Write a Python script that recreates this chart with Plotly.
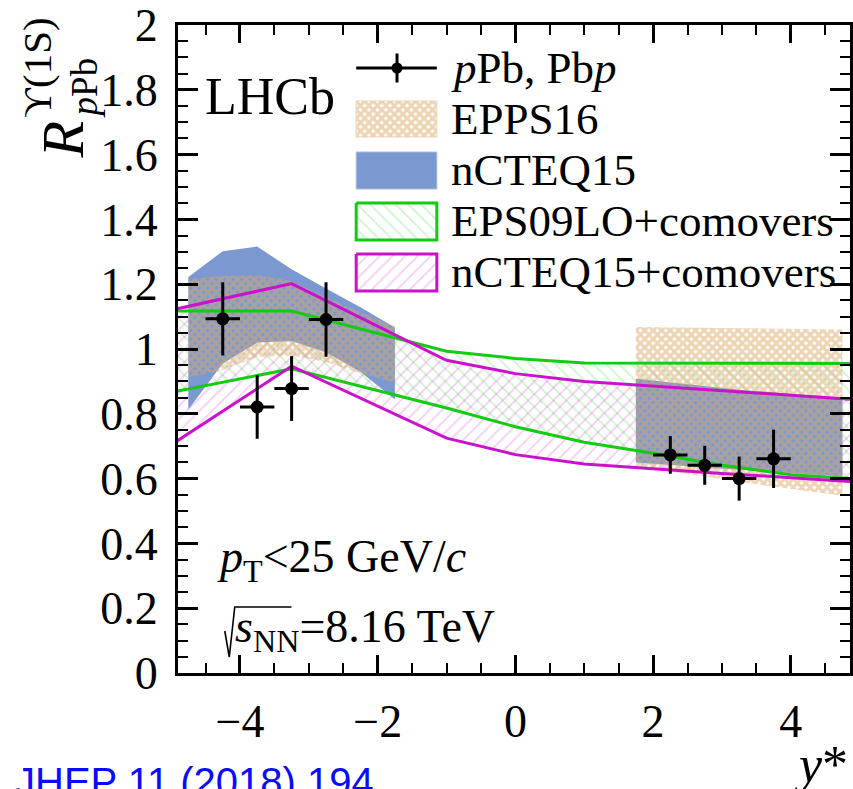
import plotly.graph_objects as go

# ---------------- data ----------------
# LHCb measurement: Upsilon(1S) nuclear modification factor vs y*
y_star = [-4.25, -3.75, -3.25, -2.75, 2.25, 2.75, 3.25, 3.75]
r_ppb = [1.093, 0.821, 0.878, 1.091, 0.673, 0.641, 0.600, 0.661]
r_err = [0.113, 0.098, 0.100, 0.115, 0.058, 0.060, 0.068, 0.090]
bin_half = [0.25] * 8

# EPPS16 and nCTEQ15 uncertainty bands (backward and forward acceptance)
bwd_x = [-4.75, -4.25, -3.75, -3.25, -2.75, -2.25, -1.75]
epps_hi_bwd = [1.215, 1.225, 1.228, 1.210, 1.159, 1.113, 1.070]
epps_lo_bwd = [0.912, 0.935, 0.975, 0.980, 0.960, 0.925, 0.896]
ncteq_hi_bwd = [1.222, 1.302, 1.316, 1.246, 1.187, 1.129, 1.066]
ncteq_lo_bwd = [0.813, 0.955, 1.020, 1.025, 0.990, 0.930, 0.844]

fwd_x = [1.75, 3.25, 4.75]
epps_hi_fwd = [1.068, 1.064, 1.060]
epps_lo_fwd = [0.638, 0.590, 0.547]
ncteq_hi_fwd = [0.908, 0.874, 0.849]
ncteq_lo_fwd = [0.650, 0.627, 0.607]

# comover calculations
com_x = [-5.0, -3.25, -1.0, 0.0, 1.0, 2.0, 3.0, 4.0, 5.0]
eps09_hi = [1.117, 1.117, 0.993, 0.971, 0.957, 0.957, 0.956, 0.956, 0.955]
eps09_lo = [0.866, 0.939, 0.818, 0.760, 0.712, 0.678, 0.641, 0.612, 0.598]
ncteqcom_hi = [1.120, 1.202, 0.965, 0.924, 0.900, 0.886, 0.872, 0.858, 0.843]
ncteqcom_lo = [0.704, 0.947, 0.725, 0.674, 0.645, 0.630, 0.616, 0.603, 0.589]

x_ticks = [-4, -2, 0, 2, 4]

# ---------------- style ----------------
SERIF = "Liberation Serif, Times New Roman, serif"
SANS = "Liberation Sans, Arial, sans-serif"
TAN = "#d9a96b"
BLUE = "#7b98d0"
GREEN = "#11cc11"
MAGENTA = "#cc11cc"
GREEN_HATCH = "rgba(17,204,17,0.42)"
MAGENTA_HATCH = "rgba(204,17,204,0.42)"

W, H = 853, 789
L, R, T, B = 178, 0, 25, 116
PW, PH = W - L - R, H - T - B

fig = go.Figure()


def band(x, hi, lo):
    return list(x) + list(x)[::-1], list(hi) + list(lo)[::-1]


def add_band(x, hi, lo, **kw):
    bx, by = band(x, hi, lo)
    fig.add_trace(go.Scatter(x=bx, y=by, mode="lines", fill="toself",
                             line=dict(width=0), hoverinfo="skip",
                             showlegend=False, **kw))


green_pattern = dict(shape="\\", fgcolor=GREEN_HATCH, bgcolor="rgba(0,0,0,0)",
                     size=9, solidity=0.2)
magenta_pattern = dict(shape="/", fgcolor=MAGENTA_HATCH, bgcolor="rgba(0,0,0,0)",
                       size=9, solidity=0.2)
epps_pattern = dict(shape="x", fgcolor=TAN, bgcolor="rgba(0,0,0,0)", size=6, solidity=0.75)

# hatched comover bands
add_band(com_x, eps09_hi, eps09_lo, fillcolor="rgba(0,0,0,0)", fillpattern=green_pattern)
add_band(com_x, ncteqcom_hi, ncteqcom_lo, fillcolor="rgba(0,0,0,0)", fillpattern=magenta_pattern)

# nCTEQ15 solid bands
add_band(bwd_x, ncteq_hi_bwd, ncteq_lo_bwd, fillcolor=BLUE)
add_band(fwd_x, ncteq_hi_fwd, ncteq_lo_fwd, fillcolor=BLUE)

# EPPS16 patterned bands
add_band(bwd_x, epps_hi_bwd, epps_lo_bwd, fillcolor="rgba(0,0,0,0)", fillpattern=epps_pattern)
add_band(fwd_x, epps_hi_fwd, epps_lo_fwd, fillcolor="rgba(0,0,0,0)", fillpattern=epps_pattern)

# comover band edges
for yy, col in [(eps09_hi, GREEN), (eps09_lo, GREEN),
                (ncteqcom_hi, MAGENTA), (ncteqcom_lo, MAGENTA)]:
    fig.add_trace(go.Scatter(x=com_x, y=yy, mode="lines", line=dict(color=col, width=3),
                             hoverinfo="skip", showlegend=False))

# measurement
fig.add_trace(go.Scatter(
    x=y_star, y=r_ppb, mode="markers",
    marker=dict(color="black", size=13),
    error_x=dict(type="data", array=bin_half, width=0, thickness=3, color="black"),
    error_y=dict(type="data", array=r_err, width=0, thickness=3, color="black"),
    showlegend=False))

# ---------------- legend (drawn on a pixel-unit overlay) ----------------
def px_trace(xs, ys, **kw):
    fig.add_trace(go.Scatter(x=xs, y=ys, xaxis="x2", yaxis="y2", hoverinfo="skip",
                             showlegend=False, **kw))


def rect(x0, y0, x1, y1):
    return [x0, x1, x1, x0, x0], [y0, y0, y1, y1, y0]


leg_x0, leg_x1 = 357, 438
px_trace([leg_x0, leg_x1], [68, 68], mode="lines", line=dict(color="black", width=3))
px_trace([398], [68], mode="markers", marker=dict(color="black", size=11),
         error_y=dict(type="data", array=[14.5], width=0, thickness=3, color="black"))

rx, ry = rect(leg_x0, 101, leg_x1, 137)
px_trace(rx, ry, mode="lines", fill="toself", fillcolor="rgba(0,0,0,0)",
         fillpattern=epps_pattern, line=dict(color="#ecd3b3", width=1))
rx, ry = rect(leg_x0, 152, leg_x1, 189)
px_trace(rx, ry, mode="lines", fill="toself", fillcolor=BLUE,
         line=dict(color="#a9bce2", width=1))
rx, ry = rect(leg_x0, 203, leg_x1, 240)
px_trace(rx, ry, mode="lines", fill="toself", fillcolor="rgba(0,0,0,0)",
         fillpattern=green_pattern, line=dict(color=GREEN, width=3))
rx, ry = rect(leg_x0, 254, leg_x1, 291)
px_trace(rx, ry, mode="lines", fill="toself", fillcolor="rgba(0,0,0,0)",
         fillpattern=magenta_pattern, line=dict(color=MAGENTA, width=3))

# radical sign for sqrt(s_NN)
px_trace([225, 229.5, 235, 292], [631, 657, 607, 607], mode="lines",
         line=dict(color="black", width=1.6))

annotations = []


def label(text, x, y, size, xanchor="left", yanchor="middle", angle=0,
          family=SERIF, color="black"):
    # x, y given in page pixels, converted to paper fractions
    annotations.append(dict(text=text, x=(x - L) / PW, y=(H - B - y) / PH,
                            xref="paper", yref="paper",
                            xanchor=xanchor, yanchor=yanchor, textangle=angle,
                            showarrow=False, font=dict(family=family, size=size, color=color)))


legend_labels = ["<i>p</i>Pb, Pb<i>p</i>", "EPPS16", "nCTEQ15",
                 "EPS09LO+comovers", "nCTEQ15+comovers"]
legend_centres = [68, 119, 170, 221, 272]
for txt, yc in zip(legend_labels, legend_centres):
    label(txt, 450, yc, 45)

label("LHCb", 270, 96, 52, xanchor="center")
label("<i>p</i><sub>T</sub>&lt;25 GeV/<i>c</i>", 215, 560, 46)
label("<i>s</i><sub>NN</sub>=8.16 TeV", 233, 630, 46)

# y-axis title pieces
label("<i>R</i>", 62, 140, 60, xanchor="center", angle=-90)
label("<i>p</i>Pb", 84, 88, 37, xanchor="center", angle=-90)
label("ϒ(1S)", 36, 68, 41, xanchor="center", angle=-90)

# x-axis title
label("<i>y</i>*", 853, 764, 52, xanchor="right")

# reference
label("JHEP 11 (2018) 194", 12, 782, 40, family=SANS, color="#0a0aff")

axis_common = dict(showline=True, linewidth=3, linecolor="black", mirror="allticks",
                   ticks="inside", tickcolor="black", showgrid=False, zeroline=False,
                   tickfont=dict(family=SERIF, size=46, color="black"))

fig.update_layout(
    width=W, height=H,
    margin=dict(l=L, r=R, t=T, b=B),
    paper_bgcolor="white", plot_bgcolor="white",
    showlegend=False,
    xaxis=dict(range=[-4.9, 4.86], tickvals=x_ticks, ticklen=18, tickwidth=2.5,
               minor=dict(dtick=0.5, ticklen=10, tickwidth=2, ticks="inside", tickcolor="black"),
               ticklabelstandoff=6, **axis_common),
    yaxis=dict(range=[0, 2], dtick=0.2, ticklen=20, tickwidth=2.5,
               minor=dict(dtick=0.05, ticklen=10, tickwidth=2, ticks="inside", tickcolor="black"),
               ticklabelstandoff=8, **axis_common),
    xaxis2=dict(overlaying="x", anchor="y2", range=[L, W - R], visible=False, fixedrange=True),
    yaxis2=dict(overlaying="y", anchor="x2", range=[H - B, T], visible=False, fixedrange=True),
    annotations=annotations,
)

fig.write_html("out.html")
